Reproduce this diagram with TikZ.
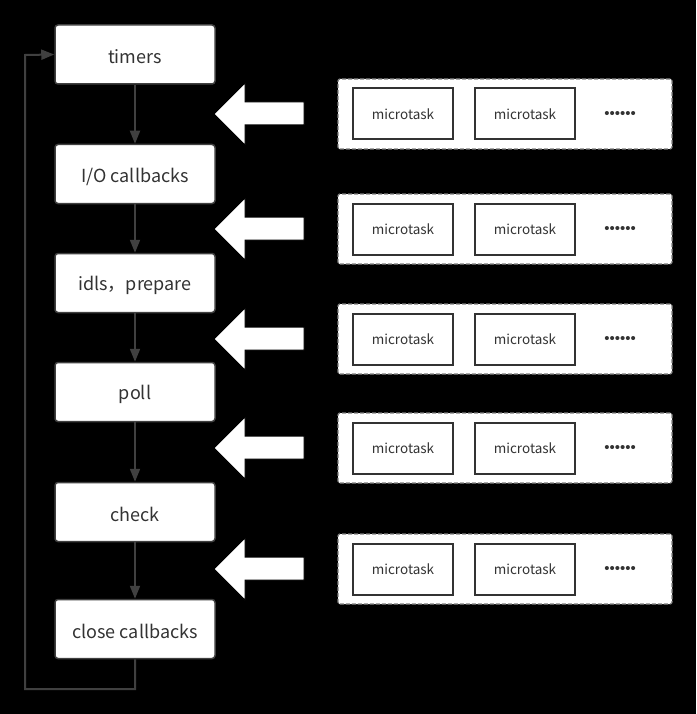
\documentclass[tikz,border=0pt]{standalone}
\usepackage{fontspec}
\setmainfont{Noto Sans CJK SC}
\newfontfamily\dotfont{Liberation Sans}
\usetikzlibrary{arrows.meta}
\definecolor{lc}{HTML}{404040}
\definecolor{tc}{HTML}{333333}
\newcommand{\lowtext}[1]{\raisebox{-2.5pt}[\height][\depth]{#1}}
\tikzset{
  phase/.style={draw=lc, line width=1.5pt, fill=white, rounded corners=3pt, minimum width=160pt, minimum height=59pt, inner sep=0pt, text=tc, font=\fontsize{18}{20}\selectfont},
  mt/.style={draw=tc, line width=2pt, fill=white, minimum width=100pt, minimum height=51pt, inner sep=0pt, text=tc, font=\fontsize{13.5}{15}\selectfont},
  cont/.style={draw=gray, dashed, dash pattern=on 4pt off 2pt, line width=1.2pt, fill=white, rounded corners=2pt, minimum width=334pt, minimum height=70pt, inner sep=0pt},
  dots/.style={text=tc, font=\dotfont\fontsize{15}{15}\selectfont, inner sep=0pt},
  flow/.style={draw=lc, line width=2pt, -{Triangle[length=13pt,width=10pt]}},
  bigarrow/.style={fill=white, draw=black, line width=1pt}
}
\begin{document}
\begin{tikzpicture}[x=1pt,y=-1pt]
\fill[black] (0,0) rectangle (696,714);
\useasboundingbox (0,0) rectangle (696,714);

\node[phase] (timers) at (135,54.5) {\lowtext{timers}};
\node[phase] (io) at (135,174) {\lowtext{I/O callbacks}};
\node[phase] (idle) at (135,283) {\lowtext{idls，prepare}};
\node[phase] (poll) at (135,392) {\lowtext{poll}};
\node[phase] (check) at (135,512) {\lowtext{check}};
\node[phase] (close) at (135,629) {\lowtext{close callbacks}};

\draw[flow] (timers) -- (io);
\draw[flow] (io) -- (idle);
\draw[flow] (idle) -- (poll);
\draw[flow] (poll) -- (check);
\draw[flow] (check) -- (close);
\coordinate (l1) at (135,689);
\coordinate (l2) at (25,689);
\coordinate (l3) at (25,55);
\draw[flow] (close.south) -- (l1) -- (l2) -- (l3) -- (timers.west);

\foreach \c/\n in {114/a,229/b,339/c,448/d,569/e}{
  \draw[bigarrow] (214,\c) -- (245,\c-31) -- (245,\c-12) -- (304,\c-12) -- (304,\c+11) -- (245,\c+11) -- (245,\c+31) -- cycle;
  \node[cont] (q\n) at (505,\c) {};
  \node[mt] (m1\n) at (403,\c) {microtask};
  \node[mt] (m2\n) at (525,\c) {microtask};
  \node[dots] (d\n) at (620,\c+1) {••••••};
}
\end{tikzpicture}
\end{document}
